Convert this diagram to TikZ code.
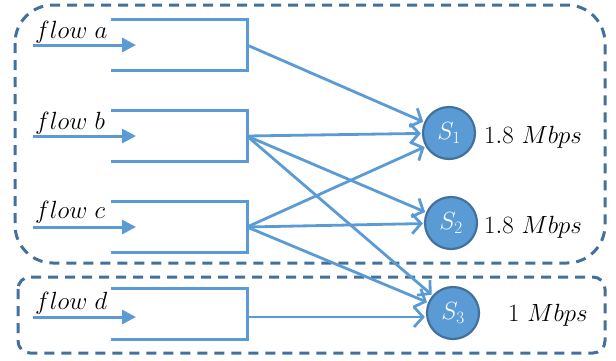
\documentclass[tikz,border=0pt]{standalone}
\usetikzlibrary{arrows.meta}
\definecolor{edgeblue}{HTML}{5B9BD5}
\definecolor{darkblue}{HTML}{41719C}
\begin{document}
\begin{tikzpicture}[x=1pt,y=-1pt,
  groupbox/.style={draw=darkblue,line width=3pt,dash pattern=on 10pt off 7pt},
  fbox/.style={inner sep=0pt,minimum width=136pt,minimum height=50pt},
  bracket/.style={draw=edgeblue,line width=3pt},
  inarrow/.style={draw=edgeblue,line width=3pt,-{Triangle[length=14pt,width=14pt]}},
  edge/.style={draw=edgeblue,line width=2.8pt,-{Straight Barb[length=9pt,width=20pt,line width=2.8pt]},shorten >=1pt},
  server/.style={circle,fill=edgeblue,draw=darkblue,line width=2.2pt,minimum size=52pt,inner sep=0pt,text=white,font=\fontsize{25}{30}\selectfont},
  flowlabel/.style={anchor=base west,inner sep=0pt,font=\fontsize{24}{28}\selectfont},
  ratelabel/.style={anchor=base west,inner sep=0pt,font=\fontsize{26}{30}\selectfont}]
\useasboundingbox (0,0) rectangle (616,360);
% group boxes
\draw[groupbox,rounded corners=38pt] (15,5) rectangle (605,263);
\draw[groupbox,rounded corners=12pt] (18,277) rectangle (605,353);
% flow boxes
\node[fbox] (A) at (179,45) {};
\node[fbox] (B) at (179,136) {};
\node[fbox] (C) at (179,227) {};
\node[fbox] (D) at (179,314) {};
\foreach \n in {A,B,C,D}{
  \draw[bracket] (\n.north west) -- (\n.north east) -- (\n.south east) -- (\n.south west);
}
% input arrows
\coordinate (ai) at (33,45);  \coordinate (ae) at (136,45);
\coordinate (bi) at (33,136); \coordinate (be) at (136,136);
\coordinate (ci) at (33,227); \coordinate (ce) at (136,227);
\coordinate (di) at (33,317); \coordinate (de) at (136,317);
\draw[inarrow] (ai) -- (ae);
\draw[inarrow] (bi) -- (be);
\draw[inarrow] (ci) -- (ce);
\draw[inarrow] (di) -- (de);
% labels
\node[flowlabel] (la) at (35,38) {$flow\ a$};
\node[flowlabel] (lb) at (35,129) {$flow\ b$};
\node[flowlabel] (lc) at (35,218) {$flow\ c$};
\node[flowlabel] (ld) at (35,309) {$flow\ d$};
% servers
\node[server] (S1) at (449,133) {$S_1$};
\node[server] (S2) at (451,223) {$S_2$};
\node[server] (S3) at (453,313) {$S_3$};
\node[ratelabel] (r1) at (484,143) {$1.8\ Mbps$};
\node[ratelabel] (r2) at (484,233) {$1.8\ Mbps$};
\node[ratelabel] (r3) at (508,321) {$1\ Mbps$};
% connectors
\coordinate (Ao) at (247,45);
\coordinate (Bo) at (247,136);
\coordinate (Co) at (247,227);
\coordinate (Do) at (247,317);
\draw[edge] (Ao) -- (S1);
\draw[edge] (Bo) -- (S1);
\draw[edge] (Bo) -- (S2);
\draw[edge] (Bo) -- (S3);
\draw[edge] (Co) -- (S1.-150);
\draw[edge] (Co) -- (S2);
\draw[edge] (Co) -- (S3);
\draw[edge] (Do) -- (S3.west |- Do);
\end{tikzpicture}
\end{document}
